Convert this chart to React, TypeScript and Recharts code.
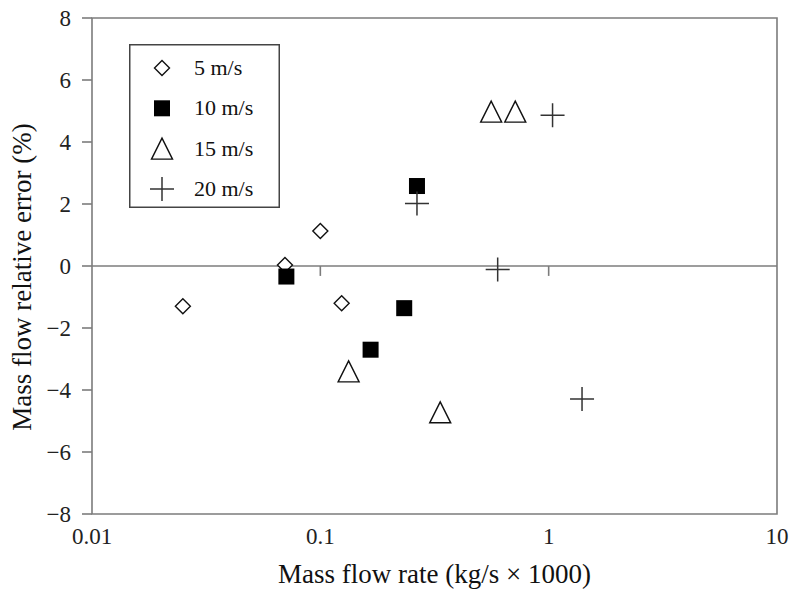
import { ScatterChart, Scatter, XAxis, YAxis, ReferenceLine, ReferenceArea, Legend, Label } from 'recharts';

// mass flow rate (kg/s x 1000) and relative error (%) per air speed
const speed5Rate = [0.025, 0.07, 0.1, 0.124];
const speed5Error = [-1.3, 0.03, 1.13, -1.2];

const speed10Rate = [0.071, 0.166, 0.233, 0.265];
const speed10Error = [-0.34, -2.7, -1.36, 2.58];

const speed15Rate = [0.133, 0.335, 0.56, 0.714];
const speed15Error = [-3.4, -4.72, 4.98, 4.98];

const speed20Rate = [0.265, 0.598, 1.04, 1.4];
const speed20Error = [2.02, -0.11, 4.86, -4.29];

const xTicks = [0.01, 0.1, 1, 10];
const yTicks = [-8, -6, -4, -2, 0, 2, 4, 6, 8];
const zeroLineTicks = [0.1, 1];

const AXIS = '#7c7c7c';
const INK = '#111';
const FONT = '"Liberation Serif", "Times New Roman", serif';

const toPoints = (rates: number[], errors: number[]) => rates.map((rate, i) => ({ rate, error: errors[i] }));

function Diamond({ cx, cy }: any) {
    const r = 7.5
    return <path d={`M${cx},${cy - r}L${cx + r},${cy}L${cx},${cy + r}L${cx - r},${cy}Z`} fill="#fff" stroke={INK} strokeWidth={1.4} />
}

function Square({ cx, cy }: any) {
    const s = 16
    return <rect x={cx - s / 2} y={cy - s / 2} width={s} height={s} fill="#000" />
}

function Triangle({ cx, cy }: any) {
    const w = 21, h = 21
    return <path d={`M${cx},${cy - h / 2}L${cx + w / 2},${cy + h / 2}L${cx - w / 2},${cy + h / 2}Z`} fill="#fff" stroke={INK} strokeWidth={1.4} />
}

function Plus({ cx, cy }: any) {
    const r = 12
    return <path d={`M${cx - r},${cy}H${cx + r}M${cx},${cy - r}V${cy + r}`} stroke="#333" strokeWidth={1.5} fill="none" />
}

const series = [
    { name: '5 m/s', data: toPoints(speed5Rate, speed5Error), Shape: Diamond },
    { name: '10 m/s', data: toPoints(speed10Rate, speed10Error), Shape: Square },
    { name: '15 m/s', data: toPoints(speed15Rate, speed15Error), Shape: Triangle },
    { name: '20 m/s', data: toPoints(speed20Rate, speed20Error), Shape: Plus },
];

function LegendBox() {
    return <svg width={151} height={164} style={{ display: 'block' }}>
        <rect x={0.75} y={0.75} width={149.5} height={162.5} fill="#fff" stroke="#444" strokeWidth={1.5} />
        {series.map((s, i) => {
            const cy = 24 + i * 40.3
            return <g key={s.name}>
                <s.Shape cx={33} cy={cy} />
                <text x={65} y={cy + 7} fontSize={22} fill={INK} fontFamily={FONT}>{s.name}</text>
            </g>
        })}
    </svg>
}

const XTitle = ({ viewBox }: any) =>
    <text x={viewBox.x + viewBox.width / 2} y={viewBox.y + 69} textAnchor="middle" fontSize={27} fill={INK} fontFamily={FONT}>
        Mass flow rate (kg/s × 1000)
    </text>

const YTitle = ({ viewBox }: any) => {
    const x = viewBox.x - 1
    const y = viewBox.y + viewBox.height / 2 + 11
    return <text x={x} y={y} transform={`rotate(-90, ${x}, ${y})`} textAnchor="middle" fontSize={27} fill={INK} fontFamily={FONT}>
        Mass flow relative error (%)
    </text>
}

export default function App() {
    return <div style={{ position: 'absolute', left: 0, top: 0, background: '#fff', fontFamily: FONT }}>
        <ScatterChart width={795} height={591} margin={{ top: 18, right: 18, bottom: 7, left: 32 }}>
            <ReferenceArea x1={0.01} x2={10} y1={-8} y2={8} fill="none" stroke={AXIS} strokeWidth={1.6} ifOverflow="visible" />
            <XAxis dataKey="rate" type="number" scale="log" domain={[0.01, 10]} ticks={xTicks} allowDataOverflow
                height={70} axisLine={false} tickLine={false} tickSize={0} tickMargin={14}
                tick={{ fontSize: 23, fill: '#222', fontFamily: FONT }}>
                <Label content={XTitle} />
            </XAxis>
            <YAxis dataKey="error" type="number" domain={[-8, 8]} ticks={yTicks} allowDataOverflow
                width={60} axisLine={false} tickLine={{ stroke: AXIS, strokeWidth: 1.6 }} tickSize={10} tickMargin={11}
                tickFormatter={(v: number) => v < 0 ? `\u2212${-v}` : String(v)}
                tick={{ fontSize: 23, fill: '#222', fontFamily: FONT }}>
                <Label content={YTitle} />
            </YAxis>
            <ReferenceLine y={0} stroke={AXIS} strokeWidth={1.6} />
            {zeroLineTicks.map(t =>
                <ReferenceLine key={t} segment={[{ x: t, y: 0 }, { x: t, y: -0.32 }]} stroke={AXIS} strokeWidth={1.6} />
            )}
            <Legend layout="horizontal" align="center" verticalAlign="middle" content={() => <LegendBox />}
                wrapperStyle={{ left: 129, top: 44, width: 151, height: 164 }} />
            {series.map(s =>
                <Scatter key={s.name} name={s.name} data={s.data} shape={s.Shape} isAnimationActive={false} />
            )}
        </ScatterChart>
    </div>
}
